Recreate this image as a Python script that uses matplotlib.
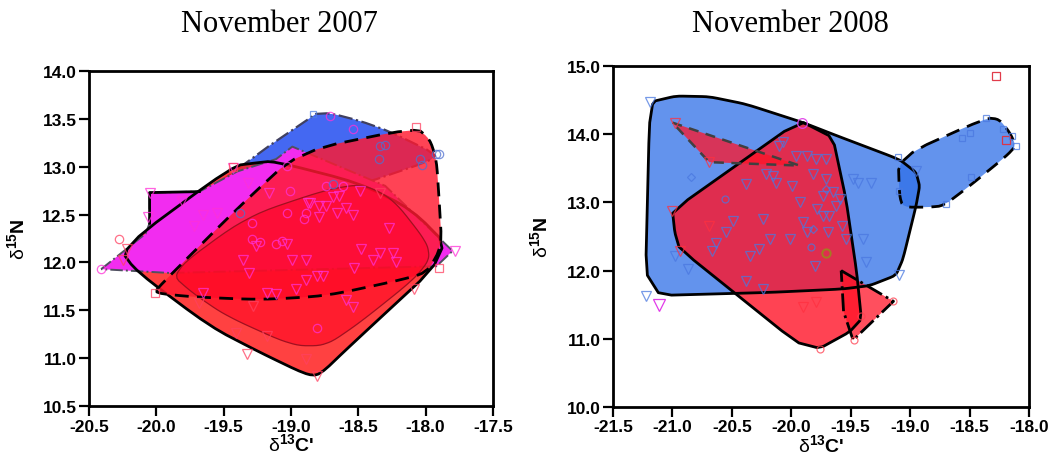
import numpy as np
import matplotlib
matplotlib.use("Agg")
import matplotlib.pyplot as plt
from matplotlib.patches import Polygon

# ---------------- November 2007 : hull vertices (d13C', d15N) ----------------
hull07_blue = [(-20.41, 11.93), (-18.84, 13.55), (-18.71, 13.56), (-18.49, 13.48),
               (-18.27, 13.37), (-17.92, 13.13), (-17.97, 13.06), (-18.47, 12.82),
               (-19.38, 12.52), (-19.98, 12.17)]
hull07_magenta = [(-20.41, 11.93), (-20.08, 12.30), (-20.05, 12.41), (-20.05, 12.73),
                  (-19.68, 12.74), (-19.40, 12.95), (-19.11, 13.08), (-18.99, 13.21),
                  (-18.30, 12.80), (-17.80, 12.12), (-17.92, 11.96), (-19.90, 11.89)]
edge07_magenta = [(-20.05, 12.41), (-20.05, 12.73), (-19.68, 12.74)]
hull07_red_solid = [(-20.27, 12.14), (-19.43, 13.01), (-19.26, 13.04), (-19.13, 13.06),
                    (-18.49, 12.83), (-18.10, 12.55), (-17.80, 12.12), (-18.56, 11.13),
                    (-18.79, 10.82), (-18.89, 10.83), (-19.23, 11.06), (-19.60, 11.33),
                    (-20.15, 11.91)]
hull07_red_dashed = [(-20.01, 11.68), (-19.98, 11.75), (-19.38, 12.59), (-18.94, 13.16),
                     (-18.07, 13.41), (-17.97, 13.29), (-17.92, 13.08), (-17.90, 12.66),
                     (-17.88, 12.17), (-17.99, 11.89), (-18.24, 11.80), (-18.74, 11.65),
                     (-19.23, 11.61), (-19.73, 11.64)]
hull07_red_inner = [(-19.90, 11.89), (-19.33, 12.48), (-18.74, 12.76), (-18.47, 12.82),
                    (-18.24, 12.66), (-17.99, 12.21), (-17.97, 12.03), (-18.09, 11.82),
                    (-18.49, 11.37), (-18.74, 11.13), (-18.99, 11.13), (-19.48, 11.44),
                    (-19.73, 11.68)]

# ---------------- November 2007 : individual samples ----------------
tri07_mag_x = [-20.05, -20.06, -19.81, -19.72, -19.65, -19.55, -19.43, -19.32, -19.26, -19.16,
               -19.03, -18.99, -18.87, -18.79, -18.74, -18.69, -18.64, -18.59, -18.54, -18.49,
               -18.27, -18.48, -18.34, -18.22, -18.53, -18.39, -18.24, -19.36, -19.31, -18.89,
               -18.81, -18.76, -18.89, -18.96, -19.18, -19.11, -19.65, -18.59, -18.54, -18.86,
               -18.66, -18.79, -17.78]
tri07_mag_y = [12.73, 12.48, 12.64, 12.38, 12.50, 12.52, 12.99, 12.83, 12.17, 12.73,
               12.19, 12.03, 12.62, 12.59, 12.59, 12.68, 12.69, 12.57, 12.50, 12.75,
               12.36, 12.14, 12.10, 12.00, 11.94, 12.03, 12.10, 12.03, 11.89, 12.03,
               11.86, 11.86, 11.82, 11.72, 11.68, 11.67, 11.68, 11.61, 11.53, 12.62,
               12.52, 12.48, 12.12]
tri07_red_x = [-19.41, -19.33, -19.18, -18.89, -18.81, -20.22, -20.25, -19.68, -19.28, -18.09, -18.34]
tri07_red_y = [11.26, 11.04, 11.23, 10.99, 10.81, 12.14, 12.03, 11.58, 11.54, 11.72, 12.73]
circ07_mag_x = [-19.29, -19.23, -19.11, -19.07, -19.29, -19.03, -19.01, -18.61, -18.74, -18.81,
                -18.89, -18.90, -19.03, -20.41, -18.54, -18.71]
circ07_mag_y = [12.24, 12.21, 12.19, 12.22, 12.41, 13.01, 12.75, 12.80, 12.80, 11.32,
                12.52, 12.45, 12.52, 11.93, 13.39, 13.53]
circ07_red_x = [-20.28]
circ07_red_y = [12.24]
circ07_blue_x = [-19.38, -18.69, -18.34, -18.30, -18.35, -18.04, -18.03, -17.92, -17.90]
circ07_blue_y = [12.52, 12.82, 13.22, 13.23, 13.08, 13.08, 13.02, 13.13, 13.13]
sq07_red_x = [-20.01, -18.07, -17.90, -19.43]
sq07_red_y = [11.68, 13.41, 11.94, 13.00]
sq07_blue_x = [-18.84]
sq07_blue_y = [13.55]

# ---------------- November 2008 : hull vertices ----------------
hull08_blue_main = [(-21.19, 14.47), (-20.97, 14.56), (-20.69, 14.55), (-20.38, 14.44),
                    (-19.90, 14.17), (-19.62, 13.98), (-19.09, 13.63), (-18.95, 13.44),
                    (-18.92, 13.24), (-18.95, 12.95), (-19.06, 12.17), (-19.12, 11.93),
                    (-19.34, 11.78), (-19.57, 11.73), (-20.18, 11.68), (-21.23, 11.63)]
hull08_blue_arm = [(-19.10, 13.66), (-18.36, 14.24), (-18.25, 14.22), (-18.16, 14.02),
                   (-18.11, 13.83), (-18.19, 13.68), (-18.50, 13.24), (-18.72, 12.95),
                   (-18.84, 12.93), (-19.06, 12.93), (-19.09, 13.10)]
hull08_red_main = [(-19.93, 14.20), (-19.65, 13.95), (-19.54, 13.05), (-19.45, 11.98),
                   (-19.41, 11.29), (-19.51, 11.10), (-19.76, 10.86), (-19.96, 10.95),
                   (-20.94, 12.32), (-20.98, 12.56), (-21.00, 12.88)]
hull08_red_upper = [(-21.00, 14.17), (-19.93, 13.54), (-20.69, 13.59)]
hull08_red_lower = [(-19.58, 12.00), (-19.14, 11.55), (-19.48, 10.98), (-19.56, 11.40)]

# ---------------- November 2008 : individual samples ----------------
tri08_blue_x = [-21.19, -21.22, -20.98, -20.87, -20.67, -20.63, -20.55, -20.49, -20.38, -20.35,
                -20.27, -20.24, -20.21, -20.18, -20.15, -20.13, -20.10, -20.07, -20.01, -19.99,
                -19.96, -19.93, -19.90, -19.87, -19.87, -19.82, -19.79, -19.73, -19.71, -19.71,
                -19.68, -19.65, -19.62, -19.59, -19.57, -19.54, -19.48, -19.44, -19.40, -19.37,
                -19.33, -19.80, -20.24, -20.38, -19.78, -19.73, -19.69, -19.09, -18.95]
tri08_blue_y = [14.47, 11.63, 12.22, 12.02, 12.29, 12.41, 12.56, 12.73, 13.27, 12.22,
                12.32, 12.76, 13.41, 12.46, 13.39, 13.29, 13.83, 13.88, 12.46, 13.24,
                13.68, 13.00, 12.71, 13.68, 12.56, 13.41, 13.63, 13.10, 13.63, 13.34,
                12.80, 13.15, 12.95, 13.05, 12.66, 12.46, 13.34, 13.29, 12.46, 12.12,
                13.29, 12.07, 11.73, 11.85, 12.90, 12.80, 12.56, 11.93, 13.46]
tri08_red_x = [-19.90, -19.79, -20.69, -21.00, -20.98, -20.69, -20.94]
tri08_red_y = [11.46, 11.54, 12.66, 12.88, 14.17, 13.59, 12.29]
circ08_red_x = [-19.76, -19.47, -19.14, -19.41]
circ08_red_y = [10.85, 10.98, 11.55, 11.34]
tri08_mag_x = [-21.11]
tri08_mag_y = [11.49]
circ08_mag_x = [-19.91]
circ08_mag_y = [14.17]
sq08_red_x = [-18.28, -18.19]
sq08_red_y = [14.85, 13.91]
sq08_blue_x = [-19.10, -18.36, -18.14, -18.70, -18.56, -18.50, -18.22, -18.11, -19.09, -18.49]
sq08_blue_y = [13.66, 14.24, 13.98, 12.98, 13.95, 14.02, 14.07, 13.83, 13.17, 13.37]
dia08_blue_x = [-20.84, -19.71, -19.82]
dia08_blue_y = [13.37, 13.20, 12.61]
circ08_blue_x = [-20.56, -19.83]
circ08_blue_y = [13.05, 12.34]
circ08_olive_x = [-19.71]
circ08_olive_y = [12.26]

# ---------------- axes labels ----------------
xticks07 = [-20.5, -20.0, -19.5, -19.0, -18.5, -18.0, -17.5]
yticks07 = [10.5, 11.0, 11.5, 12.0, 12.5, 13.0, 13.5, 14.0]
xticks08 = [-21.5, -21.0, -20.5, -20.0, -19.5, -19.0, -18.5, -18.0]
yticks08 = [10.0, 11.0, 12.0, 13.0, 14.0, 15.0]
titles = ["November 2007", "November 2008"]


def smooth(pts, n, cut=0.2):
    """Chaikin corner cutting for a closed outline."""
    p = np.asarray(pts, dtype=float)
    for _ in range(n):
        q = np.roll(p, -1, axis=0)
        out = np.empty((2 * len(p), 2))
        out[0::2] = (1 - cut) * p + cut * q
        out[1::2] = cut * p + (1 - cut) * q
        p = out
    return p


def fill(ax, pts, fc, alpha, n=2, cut=0.2, z=1):
    verts = smooth(pts, n, cut)
    ax.add_patch(Polygon(verts, closed=True, facecolor=fc, alpha=alpha,
                         edgecolor="none", zorder=z))
    return verts


def outline(ax, verts, ec="black", ls="-", lw=2.0, z=6):
    ax.add_patch(Polygon(verts, closed=True, facecolor="none", edgecolor=ec,
                         linestyle=ls, linewidth=lw, zorder=z, joinstyle="round"))


def pts(ax, x, y, marker, color, size=6, alpha=0.75, mew=0.9):
    ax.plot(x, y, linestyle="none", marker=marker, markersize=size,
            markerfacecolor="none", markeredgecolor=color, markeredgewidth=mew,
            alpha=alpha, zorder=10)


def style(ax, xt, yt, xlim, ylim, ylab_x):
    ax.set_xlim(*xlim)
    ax.set_ylim(*ylim)
    ax.set_xticks(xt)
    ax.set_yticks(yt)
    ax.set_xticklabels([f"{v:.1f}" for v in xt])
    ax.set_yticklabels([f"{v:.1f}" for v in yt])
    for s in ax.spines.values():
        s.set_linewidth(2.0)
    ax.tick_params(direction="out", length=7, width=1.6, labelsize=12.5, pad=2)
    for lab in ax.get_xticklabels() + ax.get_yticklabels():
        lab.set_fontweight("bold")
        lab.set_family("Liberation Sans")
    ax.set_xlabel(r"$\mathrm{\delta}^{\mathbf{13}}$" + "C'", fontsize=14,
                  fontweight="bold", family="Liberation Sans", labelpad=-1)
    ax.set_ylabel(r"$\mathrm{\delta}^{\mathbf{15}}$" + "N", fontsize=14,
                  fontweight="bold", family="Liberation Sans")
    ax.yaxis.set_label_coords(ylab_x, 0.5)


plt.rcParams["mathtext.fontset"] = "custom"
plt.rcParams["mathtext.rm"] = "Liberation Sans"
plt.rcParams["mathtext.bf"] = "Liberation Sans:bold"
fig = plt.figure(figsize=(10.52, 4.64), dpi=100)

ax1 = fig.add_axes([0.0846, 0.1228, 0.384, 0.722])
ax2 = fig.add_axes([0.5827, 0.1207, 0.3954, 0.7349])

# ---- 2007 panel (outlines of lower layers sit beneath the upper fills) ----
v_blue = fill(ax1, hull07_blue, "#4468f2", 1.0, n=1, z=1)
outline(ax1, v_blue, ec="#404060", ls="-.", lw=1.6, z=1.5)
v_rs = fill(ax1, hull07_red_solid, "#ff2020", 0.85, n=2, z=2)
v_mag = fill(ax1, hull07_magenta, "#f22cf0", 1.0, n=0, z=3)
outline(ax1, v_mag, ec="#505060", ls="-.", lw=1.4, z=3.5)
ax1.plot(*zip(*edge07_magenta), color="black", lw=2.0, zorder=3.6)
outline(ax1, v_rs, ec="black", ls="-", lw=2.0, z=3.8)
v_rd = fill(ax1, hull07_red_dashed, "#ff1a30", 0.82, n=2, z=4)
v_in = fill(ax1, hull07_red_inner, "#ff0020", 0.55, n=3, z=5)
outline(ax1, v_in, ec="#a01020", ls="-", lw=0.9, z=5.5)
outline(ax1, v_rd, ec="black", ls=(0, (5, 3)), lw=2.0, z=6.4)

pts(ax1, tri07_mag_x, tri07_mag_y, "v", "#ff30d8", size=7)
pts(ax1, tri07_red_x, tri07_red_y, "v", "#ff4060", size=7)
pts(ax1, circ07_mag_x, circ07_mag_y, "o", "#ff30d8", size=6)
pts(ax1, circ07_red_x, circ07_red_y, "o", "#ff4060", size=6)
pts(ax1, circ07_blue_x, circ07_blue_y, "o", "#5070d0", size=6)
pts(ax1, sq07_red_x, sq07_red_y, "s", "#ff4060", size=6)
pts(ax1, sq07_blue_x, sq07_blue_y, "s", "#5080e0", size=5)
style(ax1, xticks07, yticks07, (-20.5, -17.5), (10.5, 14.0), -0.148)

# ---- 2008 panel ----
w_bm = fill(ax2, hull08_blue_main, "#2f6fe8", 0.75, n=2, cut=0.12, z=1)
w_ba = fill(ax2, hull08_blue_arm, "#2f6fe8", 0.75, n=2, z=2)
w_rm = fill(ax2, hull08_red_main, "#ff1428", 0.80, n=1, cut=0.12, z=3)
w_ru = fill(ax2, hull08_red_upper, "#ff1428", 0.75, n=0, z=4)
w_rl = fill(ax2, hull08_red_lower, "#ff1428", 0.75, n=0, z=4.5)
outline(ax2, w_bm, ec="black", ls="-", lw=2.0, z=6)
outline(ax2, w_ba, ec="black", ls=(0, (5, 3)), lw=2.0, z=6.1)
outline(ax2, w_rm, ec="black", ls="-", lw=2.0, z=6.2)
outline(ax2, w_ru, ec="#404040", ls=(0, (4, 3)), lw=1.8, z=6.3)
outline(ax2, w_rl, ec="black", ls="-.", lw=2.0, z=6.4)

pts(ax2, tri08_blue_x, tri08_blue_y, "v", "#4a78e0", size=7)
pts(ax2, tri08_red_x, tri08_red_y, "v", "#ff3040", size=7)
pts(ax2, circ08_red_x, circ08_red_y, "o", "#ff4050", size=5)
pts(ax2, tri08_mag_x, tri08_mag_y, "v", "#e030e8", size=9, alpha=0.95)
pts(ax2, circ08_mag_x, circ08_mag_y, "o", "#e040e8", size=7, alpha=0.95)
pts(ax2, sq08_red_x, sq08_red_y, "s", "#e03040", size=6, alpha=0.95)
pts(ax2, sq08_blue_x, sq08_blue_y, "s", "#4a78e0", size=5)
pts(ax2, dia08_blue_x, dia08_blue_y, "D", "#4a78e0", size=4.5)
pts(ax2, circ08_blue_x, circ08_blue_y, "o", "#4a78e0", size=5)
pts(ax2, circ08_olive_x, circ08_olive_y, "o", "#a08020", size=6, alpha=0.95, mew=1.4)
style(ax2, xticks08, yticks08, (-21.5, -18.0), (10.0, 15.0), -0.147)

fig.text(0.266, 0.948, titles[0], ha="center", va="center", fontsize=22,
         family="Liberation Serif")
fig.text(0.751, 0.948, titles[1], ha="center", va="center", fontsize=22,
         family="Liberation Serif")

fig.savefig("out.png", dpi=100)
